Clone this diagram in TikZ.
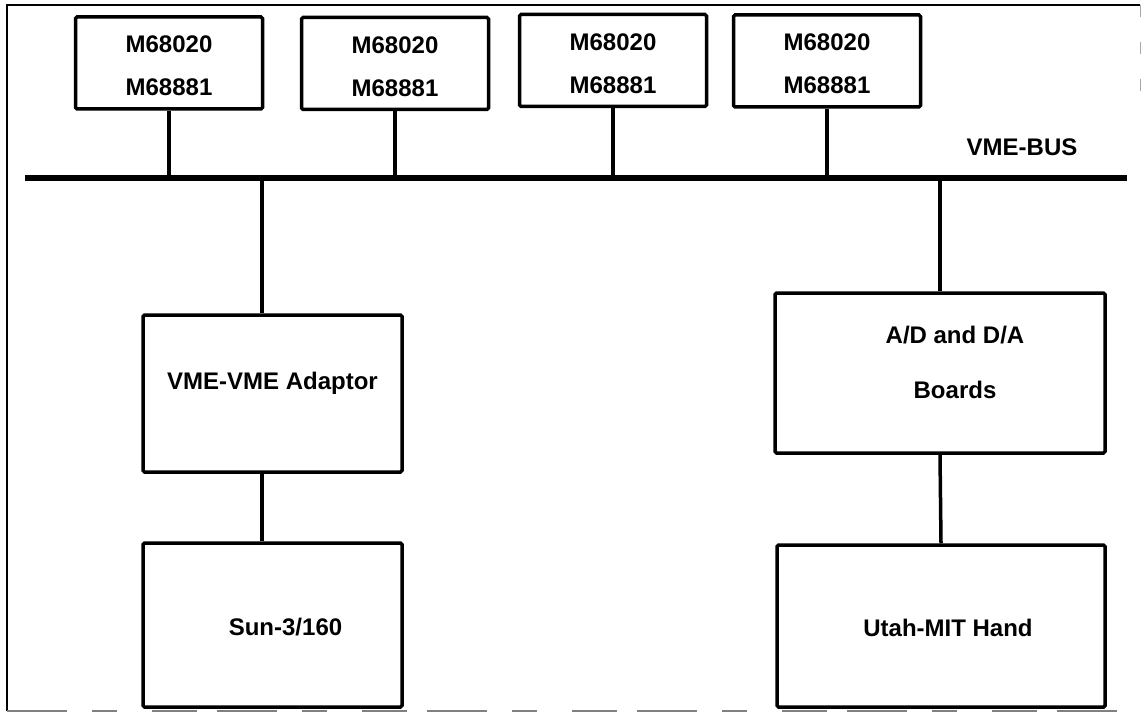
\documentclass[tikz,border=0pt]{standalone}
\usepackage{fontspec}
\setmainfont{Liberation Sans}
\begin{document}
\begin{tikzpicture}[x=1pt,y=-1pt,
  box/.style={draw, line width=3.5pt, rounded corners=1.5pt, inner sep=0pt, align=center,
    font=\fontsize{24}{43}\selectfont\bfseries},
  cpu/.style={box, minimum width=187pt, minimum height=92pt, text height=66pt, text depth=0pt},
  wire/.style={line width=3.5pt},
  busline/.style={line width=5.5pt},
  lbl/.style={font=\fontsize{24}{24}\selectfont\bfseries, inner sep=0pt}]
\useasboundingbox (0,0) rectangle (1142,714);

% outer frame
\coordinate (fTL) at (7,5);
\coordinate (fTR) at (1140,5);
\coordinate (fBL) at (7,711);
\coordinate (fBR) at (1140,711);
\coordinate (fRm) at (1140,100);
\draw[line width=2.5pt] (fTR) -- (fTL) -- (fBL);
\draw[gray, line width=1.5pt, dash pattern=on 60pt off 25pt on 25pt off 35pt on 45pt off 20pt] (fBL) -- (fBR);
\draw[gray!70, line width=1pt, dash pattern=on 12pt off 25pt] (fTR) -- (fRm);

% processor boards
\node[cpu] (p1) at (169,63)   {M68020\\M68881};
\node[cpu] (p2) at (395,63.5) {M68020\\M68881};
\node[cpu] (p3) at (613,60.5) {M68020\\M68881};
\node[cpu] (p4) at (827,61)   {M68020\\M68881};

% bus
\coordinate (busL) at (25,178);
\coordinate (busR) at (1127,178);
\draw[busline] (busL) -- (busR);
\node[lbl] (buslabel) at (1022,147) {VME-BUS};

\foreach \p in {p1,p2,p3,p4}
  \draw[wire] (\p.south) -- (\p.south |- busL);

% lower boxes
\node[box, minimum width=259pt, minimum height=157pt, text height=17pt, text depth=25pt]
  (vme) at (272.5,393.5) {VME-VME Adaptor};
\node[box, minimum width=259pt, minimum height=164pt, text height=21pt, text depth=0pt]
  (sun) at (272.5,625) {\hspace*{26pt}Sun-3/160};
\node[box, minimum width=330pt, minimum height=160pt, text height=51pt, text depth=0pt,
  font=\fontsize{24}{55}\selectfont\bfseries]
  (ad) at (940,373) {\hspace*{30pt}A/D and D/A\\\hspace*{30pt}Boards};
\node[box, minimum width=328pt, minimum height=162pt, text height=21pt, text depth=0pt]
  (hand) at (941,626) {\hspace*{14pt}Utah-MIT Hand};

% connectors
\coordinate (jA) at (262,178);
\draw[wire] (jA) -- (jA |- vme.north);
\draw[wire] (vme.south -| jA) -- (sun.north -| jA);
\draw[wire] (ad.north |- busL) -- (ad.north);
\draw[wire] (ad.south) -- (hand.north);
\end{tikzpicture}
\end{document}
